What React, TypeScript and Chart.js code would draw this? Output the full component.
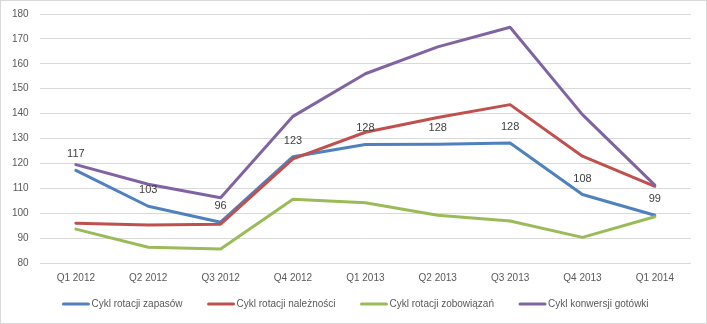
import React, { useEffect, useRef } from "react";
import { Chart, registerables } from "chart.js";

Chart.register(...registerables);

const categories = ["Q1 2012", "Q2 2012", "Q3 2012", "Q4 2012", "Q1 2013", "Q2 2013", "Q3 2013", "Q4 2013", "Q1 2014"];
const zapasow = [117.2, 102.8, 96.4, 122.7, 127.6, 127.7, 128.2, 107.5, 99.2];
const naleznosci = [96.0, 95.3, 95.6, 121.8, 132.5, 138.4, 143.6, 122.9, 110.8];
const zobowiazan = [93.6, 86.3, 85.6, 105.6, 104.2, 99.2, 96.9, 90.3, 98.6];
const gotowki = [119.5, 111.6, 106.2, 138.9, 156.0, 166.8, 174.7, 139.6, 111.3];
const seriesNames = ["Cykl rotacji zapasów", "Cykl rotacji należności", "Cykl rotacji zobowiązań", "Cykl konwersji gotówki"];
const seriesColors = ["#4F81BD", "#C0504D", "#9BBB59", "#8064A2"];
const yTicks = [80, 90, 100, 110, 120, 130, 140, 150, 160, 170, 180];

const FONT = "'Liberation Sans', Arial, sans-serif";

const labelPlugin = {
  id: "blueLabels",
  afterDatasetsDraw(chart: any) {
    const meta = chart.getDatasetMeta(0);
    const ctx = chart.ctx;
    ctx.save();
    ctx.font = `11px ${FONT}`;
    ctx.fillStyle = "#404040";
    ctx.textAlign = "center";
    ctx.textBaseline = "alphabetic";
    meta.data.forEach((pt: any, i: number) => {
      ctx.fillText(String(Math.round(zapasow[i])), pt.x, pt.y - 13);
    });
    ctx.restore();
  },
};

const legendPlugin = {
  id: "customLegend",
  afterDraw(chart: any) {
    const ctx = chart.ctx;
    ctx.save();
    ctx.font = `10px ${FONT}`;
    const lineLen = 27;
    const gapText = 2;
    const gapItem = 25;
    const widths = seriesNames.map((n) => ctx.measureText(n).width);
    const total = widths.reduce((s, w) => s + lineLen + gapText + w, 0) + gapItem * (seriesNames.length - 1);
    let x = (chart.width - total) / 2 + 2;
    const y = 303;
    seriesNames.forEach((name, i) => {
      ctx.strokeStyle = seriesColors[i];
      ctx.lineWidth = 3;
      ctx.lineCap = "round";
      ctx.beginPath();
      ctx.moveTo(x + 1, y);
      ctx.lineTo(x + lineLen - 1, y);
      ctx.stroke();
      ctx.fillStyle = "#595959";
      ctx.textAlign = "left";
      ctx.textBaseline = "middle";
      ctx.fillText(name, x + lineLen + gapText, y);
      x += lineLen + gapText + widths[i] + gapItem;
    });
    ctx.restore();
  },
};

export default function App() {
  const ref = useRef<HTMLCanvasElement>(null);
  useEffect(() => {
    if (!ref.current) return;
    Chart.defaults.font.family = FONT;
    const mk = (label: string, data: number[], color: string, order: number) => ({
      label,
      data,
      borderColor: color,
      backgroundColor: color,
      borderWidth: 3,
      pointRadius: 0,
      pointHoverRadius: 0,
      tension: 0,
      borderJoinStyle: "round",
      borderCapStyle: "round",
      order,
    });
    const chart = new Chart(ref.current, {
      type: "line",
      data: {
        labels: categories,
        datasets: [
          mk(seriesNames[0], zapasow, seriesColors[0], 4),
          mk(seriesNames[1], naleznosci, seriesColors[1], 3),
          mk(seriesNames[2], zobowiazan, seriesColors[2], 2),
          mk(seriesNames[3], gotowki, seriesColors[3], 1),
        ] as any,
      },
      options: {
        responsive: false,
        animation: false,
        layout: { padding: { left: 0, right: 15, top: 13, bottom: 30 } },
        plugins: {
          legend: { display: false },
          tooltip: { enabled: false },
        },
        scales: {
          x: {
            offset: true,
            grid: { display: false, drawTicks: false },
            border: { display: false },
            ticks: { color: "#595959", font: { size: 10, family: FONT }, padding: 9, maxRotation: 0 },
          },
          y: {
            min: 80,
            max: 180,
            afterBuildTicks: (axis: any) => {
              axis.ticks = yTicks.map((v) => ({ value: v }));
            },
            afterFit: (axis: any) => {
              axis.paddingTop = 6;
              axis.paddingBottom = 6;
            },
            grid: { color: "#D9D9D9", drawTicks: false, lineWidth: 1 },
            border: { display: false },
            ticks: { color: "#595959", font: { size: 10, family: FONT }, padding: 11 },
          },
        },
      },
      plugins: [labelPlugin, legendPlugin],
    });
    return () => chart.destroy();
  }, []);
  return (
    <div
      style={{
        position: "absolute",
        left: 0,
        top: 0,
        width: 707,
        height: 324,
        boxSizing: "border-box",
        border: "1px solid #D9D9D9",
        background: "#fff",
      }}
    >
      <canvas ref={ref} width={705} height={322} style={{ display: "block" }} />
    </div>
  );
}
